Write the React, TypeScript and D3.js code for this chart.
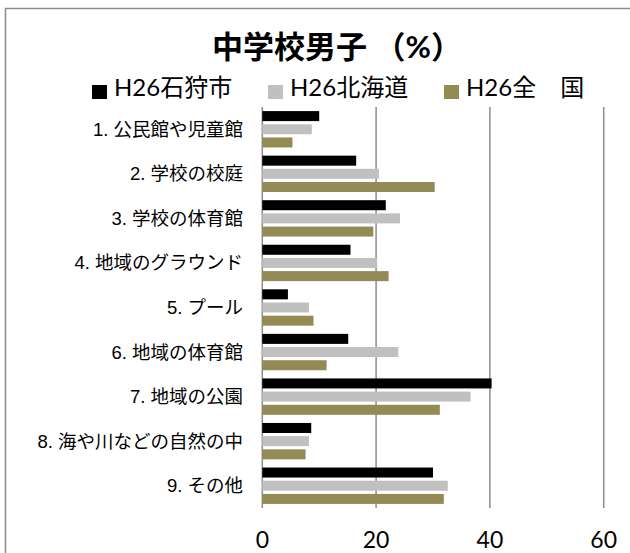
import React from "react";
import * as d3 from "d3";

const categories = [
  "1. 公民館や児童館",
  "2. 学校の校庭",
  "3. 学校の体育館",
  "4. 地域のグラウンド",
  "5. プール",
  "6. 地域の体育館",
  "7. 地域の公園",
  "8. 海や川などの自然の中",
  "9. その他",
];
const seriesNames = ["H26石狩市", "H26北海道", "H26全　国"];
const ishikari = [10.0, 16.5, 21.7, 15.5, 4.5, 15.1, 40.3, 8.6, 30.0];
const hokkaido = [8.7, 20.5, 24.2, 20.2, 8.2, 23.9, 36.6, 8.2, 32.6];
const national = [5.3, 30.3, 19.5, 22.2, 9.0, 11.3, 31.2, 7.6, 31.9];
const xTicks = [0, 20, 40, 60];
const title = "中学校男子 （%）";

const colors = ["#000000", "#c0c0c0", "#948a54"];
const FONT = "Lato, 'Noto Sans CJK JP', sans-serif";
const LABEL_FONT = "'Liberation Sans', 'Noto Sans CJK JP', sans-serif";

export default function App() {
  const W = 630;
  const H = 553;
  const left = 262.3;
  const right = 603.7;
  const top = 107;
  const bottom = 508;

  const x = d3.scaleLinear().domain([0, 60]).range([left, right]);
  const y = d3.scaleBand<string>().domain(categories).range([top, bottom]).paddingInner(0).paddingOuter(0);
  const inner = d3
    .scaleBand<string>()
    .domain(seriesNames)
    .range([0, y.bandwidth()])
    .paddingInner(0.24)
    .paddingOuter(0.31);

  const series = [ishikari, hokkaido, national];

  return (
    <svg
      width={W}
      height={H}
      style={{ position: "absolute", left: 0, top: 0, background: "#fff" }}
      fontFamily={FONT}
    >
      <rect x={0} y={0} width={W} height={H} fill="#fff" />
      <rect x={5.5} y={8.5} width={700} height={700} fill="#fff" stroke="#8c8c8c" strokeWidth={1.5} />

      <text x={212} y={58} fontSize={31} fontWeight="bold" fill="#000">
        {title}
      </text>

      {seriesNames.map((name, i) => (
        <g key={name} transform={`translate(${92 + i * 176},0)`}>
          <rect x={0} y={85} width={15} height={14} fill={colors[i]} />
          <text x={22} y={96} fontSize={24} fill="#000">
            {name}
          </text>
        </g>
      ))}

      {xTicks.map((t) => (
        <line key={t} x1={x(t)} x2={x(t)} y1={top} y2={bottom} stroke="#8c8c8c" strokeWidth={1.5} />
      ))}

      {categories.map((c, ci) => (
        <g key={c}>
          {series.map((s, si) => (
            <rect
              key={si}
              x={x(0)}
              y={(y(c) as number) + (inner(seriesNames[si]) as number)}
              width={x(s[ci]) - x(0)}
              height={inner.bandwidth()}
              fill={colors[si]}
            />
          ))}
          <text
            x={243}
            y={(y(c) as number) + y.bandwidth() / 2 + 6.5}
            textAnchor="end"
            fontSize={18.5}
            fontFamily={LABEL_FONT}
            fill="#000"
          >
            {c}
          </text>
        </g>
      ))}

      {xTicks.map((t) => (
        <text key={t} x={x(t)} y={548} textAnchor="middle" fontSize={23} fill="#000">
          {t}
        </text>
      ))}
    </svg>
  );
}
